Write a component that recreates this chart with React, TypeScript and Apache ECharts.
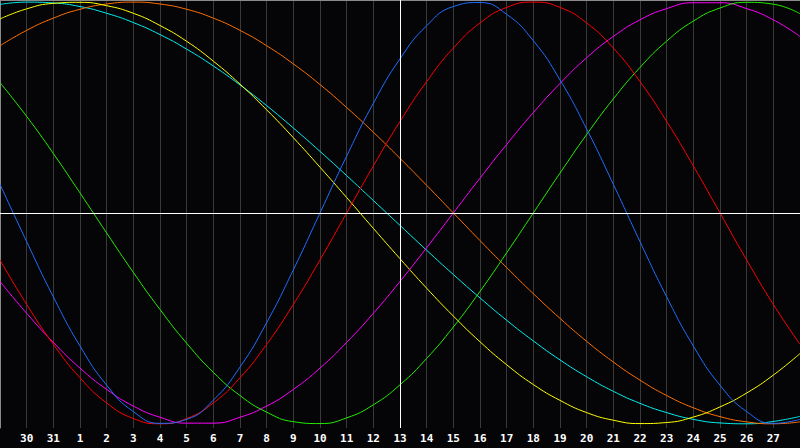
import { useEffect, useRef } from "react";
import * as echarts from "echarts";

// days shown, from the 29th of the previous month to the 28th
const days = [
  "29", "30", "31", "1", "2", "3", "4", "5", "6", "7", "8", "9", "10", "11", "12",
  "13", "14", "15", "16", "17", "18", "19", "20", "21", "22", "23", "24", "25", "26", "27", "28"
];
const today = "13";

const physical = [13.6, -13.6, -39.8, -63.1, -81.7, -94.2, -99.8, -97.9, -88.8, -73.1, -52.0, -27.0, 0, 27.0, 52.0, 73.1, 88.8, 97.9, 99.8, 94.2, 81.7, 63.1, 39.8, 13.6, -13.6, -39.8, -63.1, -81.7, -94.2, -99.8, -97.9];
const emotional = [-22.3, -43.4, -62.3, -78.2, -90.1, -97.5, -100, -97.5, -90.1, -78.2, -62.3, -43.4, -22.3, 0, 22.3, 43.4, 62.3, 78.2, 90.1, 97.5, 100, 97.5, 90.1, 78.2, 62.3, 43.4, 22.3, 0, -22.3, -43.4, -62.3];
const intellectual = [61.8, 45.8, 28.2, 9.5, -9.5, -28.2, -45.8, -61.8, -75.6, -86.6, -94.5, -99.0, -99.9, -97.2, -91.0, -81.5, -69.0, -54.1, -37.2, -18.9, 0, 18.9, 37.2, 54.1, 69.0, 81.5, 91.0, 97.2, 99.9, 99.0, 94.5];
const intuitive = [-32.5, -47.6, -61.4, -73.6, -83.7, -91.6, -96.9, -99.7, -99.7, -96.9, -91.6, -83.7, -73.6, -61.4, -47.6, -32.5, -16.5, 0, 16.5, 32.5, 47.6, 61.4, 73.6, 83.7, 91.6, 96.9, 99.7, 99.7, 96.9, 91.6, 83.7];
const aesthetic = [92.0, 96.8, 99.4, 99.9, 98.3, 94.7, 88.9, 81.4, 72.0, 61.1, 48.9, 35.7, 21.7, 7.3, -7.3, -21.7, -35.7, -48.9, -61.1, -72.0, -81.4, -88.9, -94.7, -98.3, -99.9, -99.4, -96.8, -92.0, -85.4, -76.9, -66.7];
const awareness = [79.3, 86.6, 92.4, 96.6, 99.1, 100, 99.1, 96.6, 92.4, 86.6, 79.3, 70.7, 60.9, 50.0, 38.3, 25.9, 13.1, 0, -13.1, -25.9, -38.3, -50.0, -60.9, -70.7, -79.3, -86.6, -92.4, -96.6, -99.1, -100, -99.1];
const spiritual = [98.9, 100.0, 99.6, 97.9, 94.7, 90.3, 84.6, 77.7, 69.7, 60.7, 50.9, 40.3, 29.2, 17.7, 5.9, -5.9, -17.7, -29.2, -40.3, -50.9, -60.7, -69.7, -77.7, -84.6, -90.3, -94.7, -97.9, -99.6, -100.0, -98.9, -96.5];

const curves = [
  { name: "Spiritual", data: spiritual, color: "#00f0f0" },
  { name: "Awareness", data: awareness, color: "#ff7000" },
  { name: "Aesthetic", data: aesthetic, color: "#ffff00" },
  { name: "Intuitive", data: intuitive, color: "#ff00ff" },
  { name: "Intellectual", data: intellectual, color: "#22ee00" },
  { name: "Emotional", data: emotional, color: "#ff0000" },
  { name: "Physical", data: physical, color: "#1f6fff" }
];

export default function App() {
  const chartRef = useRef<HTMLDivElement | null>(null);

  useEffect(() => {
    if (!chartRef.current) {
      return;
    }
    const chart = echarts.init(chartRef.current, null, { renderer: "svg" });

    chart.setOption({
      animation: false,
      backgroundColor: "#050407",
      grid: { left: 0, right: 0, top: 0, bottom: 20, outerBoundsMode: "none", containLabel: false },
      xAxis: [
        {
          type: "category",
          data: days,
          boundaryGap: false,
          axisLine: { show: true, lineStyle: { color: "#a0a0a0", width: 1 } },
          axisTick: { show: false },
          splitLine: { show: true, lineStyle: { color: "#3a3a3a", width: 1 } },
          axisLabel: {
            interval: 0,
            margin: 5,
            color: "#ffffff",
            fontWeight: "bold",
            fontSize: 11,
            fontFamily: "DejaVu Sans Mono",
            formatter: (value: string, idx: number) =>
              idx === 0 || idx === days.length - 1 ? "" : value
          }
        },
        {
          type: "category",
          data: days,
          position: "top",
          boundaryGap: false,
          axisLine: { show: true, lineStyle: { color: "#8a8a8a", width: 1 } },
          axisTick: { show: false },
          axisLabel: { show: false }
        }
      ],
      yAxis: {
        type: "value",
        min: -102,
        max: 101,
        axisLine: { show: true, lineStyle: { color: "#8a8a8a", width: 1 } },
        axisTick: { show: false },
        axisLabel: { show: false },
        splitLine: { show: false }
      },
      series: [
        ...curves.map((c) => ({
          name: c.name,
          type: "line",
          data: c.data,
          smooth: true,
          showSymbol: false,
          symbol: "none",
          lineStyle: { width: 1, color: c.color },
          itemStyle: { color: c.color },
          silent: true
        })),
        {
          type: "line",
          data: [],
          silent: true,
          markLine: {
            symbol: "none",
            silent: true,
            label: { show: false },
            lineStyle: { color: "#ffffff", width: 1, type: "solid" },
            data: [{ xAxis: today }, { yAxis: 0 }]
          }
        }
      ]
    });

    return () => {
      chart.dispose();
    };
  }, []);

  return (
    <div
      ref={chartRef}
      style={{ position: "absolute", left: 0, top: 0, width: 800, height: 448 }}
    />
  );
}
